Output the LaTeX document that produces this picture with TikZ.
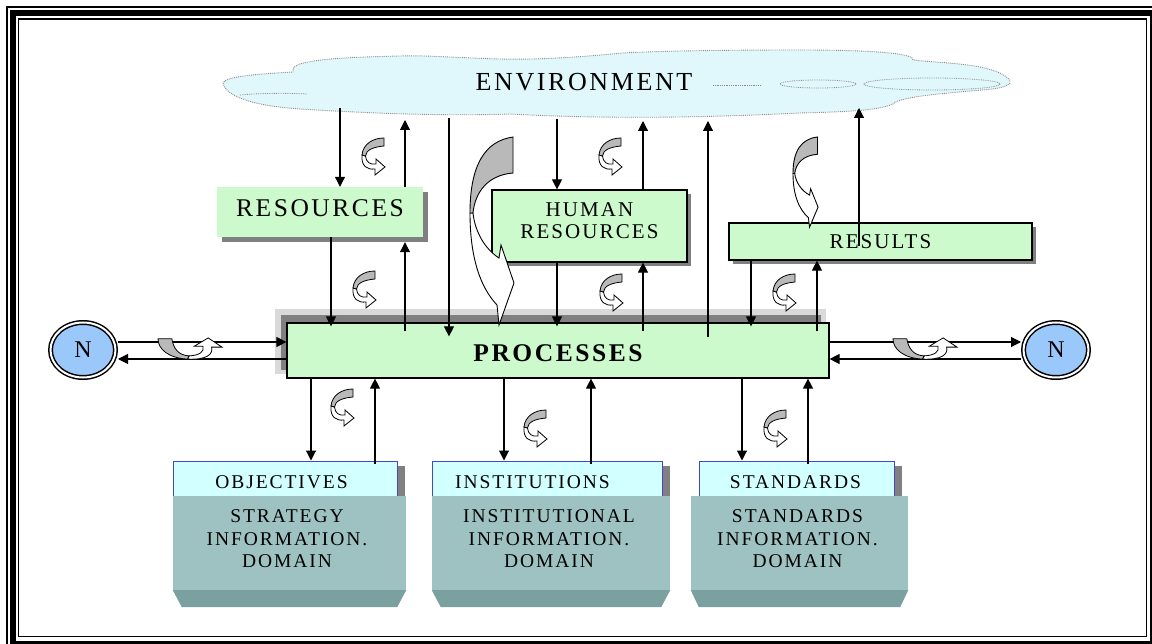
\documentclass[tikz,border=0pt]{standalone}
\usepackage{fontspec}
\setmainfont{Liberation Serif}[LetterSpace=10]
\usetikzlibrary{arrows.meta,calc,shadows,shapes.geometric}

\definecolor{cloudfill}{RGB}{224,247,252}
\definecolor{cloudline}{RGB}{140,140,140}
\definecolor{boxgreen}{RGB}{204,250,204}
\definecolor{nblue}{RGB}{155,200,250}
\definecolor{tabcyan}{RGB}{210,255,255}
\definecolor{tabblue}{RGB}{70,70,200}
\definecolor{bodyteal}{RGB}{158,194,194}
\definecolor{bevelteal}{RGB}{122,160,160}
\definecolor{curlgray}{RGB}{185,185,185}

\newcommand\fsEnv{\fontsize{26}{28}\selectfont}
\newcommand\fsRes{\fontsize{25.5}{28}\selectfont}
\newcommand\fsProc{\fontsize{25.5}{28}\selectfont\bfseries}
\newcommand\fsMid{\fontsize{21}{22}\selectfont}
\newcommand\fsSmall{\fontsize{19.5}{22.5}\selectfont}
\newcommand\fsN{\fontsize{24}{26}\selectfont}

\tikzset{
 curl/.pic={
  \draw[line width=0.8pt, fill=white] (1,17) .. controls (0,28) and (6,32) .. (14,31) -- (14,37) -- (24,29) -- (15,21) -- (15,26) .. controls (9,27) and (5,24) .. (4.5,18) -- cycle;
  \draw[line width=0.8pt, fill=curlgray] (23,0) .. controls (12,0) and (2,6) .. (1,17) -- (4.5,18) .. controls (5,12) and (12,9) .. (23,8) -- cycle;
 },
 bigcurl/.pic={
  \draw[line width=0.9pt, fill=white] (0,76) .. controls (0,120) and (10,150) .. (27,168) -- (29,188) -- (44,146) -- (31,108) -- (29,121) .. controls (15,112) and (5,95) .. (3,76) -- cycle;
  \draw[line width=0.9pt, fill=curlgray] (43,0) .. controls (15,4) and (0,28) .. (0,76) -- (3,76) .. controls (5,55) and (18,38) .. (43,36) -- cycle;
 }
}

\begin{document}
\begin{tikzpicture}[x=1pt, y=-1pt,
 arr/.style={line width=1.1pt, -{Triangle[width=10pt,length=10pt]}},
 resbox/.style={fill=boxgreen, inner sep=0pt, font=\fsRes, drop shadow={shadow xshift=5pt, shadow yshift=-5pt, fill=black!50, opacity=1}},
 gbox/.style={draw=black, line width=1.2pt, fill=boxgreen, inner sep=0pt, drop shadow={shadow xshift=4pt, shadow yshift=-4pt, fill=black!50, opacity=1}},
 pbox/.style={draw=black, line width=1.2pt, fill=boxgreen, inner sep=0pt},
 nnode/.style={ellipse, draw=black, double=white, double distance=2pt, line width=1.5pt, fill=nblue, minimum width=65pt, minimum height=55pt, inner sep=0pt, outer sep=2.5pt, font=\fsN},
 tabbox/.style={draw=tabblue, line width=1pt, fill=tabcyan, inner sep=0pt, minimum height=35pt, drop shadow={shadow xshift=8pt, shadow yshift=-5pt, fill=black!50, opacity=1}},
 bodybox/.style={fill=bodyteal, inner sep=0pt, minimum height=94pt},
 bevel/.style={fill=bevelteal}
]
\useasboundingbox (0,0) rectangle (1152,644);
\clip (0,0) rectangle (1152,644);

% frame
\draw[line width=1.2pt] (7,7) rectangle (1170,670);
\draw[line width=6pt] (12.5,13) rectangle (1152.5,643.5);
\draw[line width=1.2pt] (18.5,19) rectangle (1146.5,636.5);

% cloud
\path[fill=cloudfill, draw=cloudline, densely dotted, line width=0.9pt]
 (223,83)
 .. controls (226,97) and (255,106) .. (300,109)
 .. controls (380,114) and (450,116) .. (510,114)
 .. controls (600,119) and (700,118) .. (800,113)
 .. controls (840,112) and (878,111) .. (893,104)
 .. controls (900,96) and (950,93) .. (993,89)
 .. controls (1006,87) and (1012,84) .. (1010,81)
 .. controls (1007,75) and (995,70) .. (980,67)
 .. controls (960,63) and (930,62) .. (913,60)
 .. controls (915,54) and (880,50) .. (800,50)
 .. controls (720,50) and (660,51) .. (623,53)
 .. controls (580,57) and (540,60) .. (500,59)
 .. controls (460,58) and (425,55) .. (400,56)
 .. controls (360,57) and (320,58) .. (300,64)
 .. controls (292,67) and (292,70) .. (293,72)
 .. controls (255,74) and (224,77) .. (223,83) -- cycle;
\draw[cloudline, densely dotted, line width=0.8pt] (240,95) .. controls (260,93) and (290,93) .. (307,94);
\draw[cloudline, densely dotted, line width=0.8pt] (932,84) ellipse [x radius=68, y radius=6];
\draw[cloudline, densely dotted, line width=0.8pt] (818,84) ellipse [x radius=38, y radius=4];
\draw[cloudline, densely dotted, line width=0.8pt] (713,85) -- (760,85);
\node[font=\fsEnv, inner sep=0pt] (env) at (584,82.5) {ENVIRONMENT};

% cloud attachment points
\coordinate (e340) at (340,108);
\coordinate (e405) at (405,120);
\coordinate (e449) at (449,118);
\coordinate (e557) at (557,119);
\coordinate (e643) at (643,121);
\coordinate (e708) at (708,121);
\coordinate (e859) at (859,108);
\coordinate (x331) at (331,0);
\coordinate (x751) at (751,0);
\coordinate (x817) at (817,0);
\coordinate (x311) at (311,0);
\coordinate (x375) at (375,0);
\coordinate (x504) at (504,0);
\coordinate (x591) at (591,0);
\coordinate (x742) at (742,0);
\coordinate (x808) at (808,0);

% upper boxes
\node[resbox, minimum width=206pt, minimum height=50pt, text height=17pt, text depth=7pt] (res) at (320,212) {RESOURCES};
\node[gbox, minimum width=195pt, minimum height=72pt, label={[font=\fsMid, align=center, yshift=5pt]center:HUMAN\\RESOURCES}] (hr) at (589.5,226) {};
\node[gbox, minimum width=303pt, minimum height=37pt, text height=14pt, text depth=0pt, font=\fsMid] (rsl) at (880.5,241.5) {RESULTS};

% processes with shadow
\fill[black!15] (275,309) rectangle (826,374);
\fill[black!50] (281,315) rectangle (821,370);
\node[pbox, minimum width=542pt, minimum height=55pt, text height=23pt, text depth=0pt, font=\fsProc] (proc) at (558,350.5) {PROCESSES};

% N nodes
\node[nnode] (nL) at (83,350) {N};
\node[nnode] (nR) at (1056,350) {N};

% lower boxes
\node[tabbox, minimum width=224pt, label={[font=\fsSmall, xshift=-3.5pt, yshift=-4pt]center:OBJECTIVES}] (objt) at (285,478.5) {};
\node[bodybox, minimum width=233pt, label={[font=\fsSmall, align=center, xshift=-2.5pt, yshift=4pt]center:STRATEGY\\INFORMATION.\\DOMAIN}] (objb) at (289.5,543) {};
\fill[bevel] (objb.south west) -- (objb.south east) -- ($(objb.south east)+(-9,17)$) -- ($(objb.south west)+(9,17)$) -- cycle;

\node[tabbox, minimum width=230pt, label={[font=\fsSmall, xshift=-14.5pt, yshift=-4pt]center:INSTITUTIONS}] (instt) at (547,478.5) {};
\node[bodybox, minimum width=238pt, label={[font=\fsSmall, align=center, xshift=-2pt, yshift=4pt]center:INSTITUTIONAL\\INFORMATION.\\DOMAIN}] (instb) at (551,543) {};
\fill[bevel] (instb.south west) -- (instb.south east) -- ($(instb.south east)+(-9,17)$) -- ($(instb.south west)+(9,17)$) -- cycle;

\node[tabbox, minimum width=195pt, label={[font=\fsSmall, xshift=-1pt, yshift=-4pt]center:STANDARDS}] (stdt) at (796.5,478.5) {};
\node[bodybox, minimum width=217pt, label={[font=\fsSmall, align=center, xshift=-2pt, yshift=4pt]center:STANDARDS\\INFORMATION.\\DOMAIN}] (stdb) at (799.5,543) {};
\fill[bevel] (stdb.south west) -- (stdb.south east) -- ($(stdb.south east)+(-8,17)$) -- ($(stdb.south west)+(8,17)$) -- cycle;

% connectors: cloud / upper boxes / processes
\draw[arr] (e340) -- (e340 |- res.north);
\draw[arr] (e405 |- res.north) -- (e405);
\draw[arr] (x331 |- res.south) -- ($(x331 |- proc.north)+(0,4)$);
\draw[arr] ($(e405 |- proc.north)+(0,9)$) -- ($(e405 |- res.south)+(0,5)$);
\draw[arr] (e449) -- ($(e449 |- proc.north)+(0,14)$);
\draw[arr] (e557) -- (e557 |- hr.north);
\draw[arr] (e643 |- hr.north) -- (e643);
\draw[arr] (e557 |- hr.south) -- ($(e557 |- proc.north)+(0,4)$);
\draw[arr] ($(e643 |- proc.north)+(0,9)$) -- (e643 |- hr.south);
\draw[arr] ($(e708 |- proc.north)+(0,15)$) -- (e708);
\draw[arr] (x751 |- rsl.south) -- ($(x751 |- proc.north)+(0,4)$);
\draw[arr] ($(x817 |- proc.north)+(0,9)$) -- (x817 |- rsl.south);
\draw[arr] ($(e859 |- rsl.north)+(0,24)$) -- (e859);

% connectors: processes / lower boxes
\draw[arr] (x311 |- proc.south) -- (x311 |- objt.north);
\draw[arr] ($(x375 |- objt.north)+(0,3)$) -- (x375 |- proc.south);
\draw[arr] (x504 |- proc.south) -- (x504 |- instt.north);
\draw[arr] ($(x591 |- instt.north)+(0,3)$) -- (x591 |- proc.south);
\draw[arr] (x742 |- proc.south) -- (x742 |- stdt.north);
\draw[arr] ($(x808 |- stdt.north)+(0,3)$) -- (x808 |- proc.south);

% connectors: N nodes
\draw[arr] ($(nL.east)+(0,-8)$) -- ($(proc.west)+(0,-8.5)$);
\draw[arr] ($(proc.west)+(0,8.5)$) -- ($(nL.east)+(0,9)$);
\draw[arr] ($(proc.east)+(0,-8.5)$) -- ($(nR.west)+(0,-8)$);
\draw[arr] ($(nR.west)+(0,9)$) -- ($(proc.east)+(0,8.5)$);

% curl icons
\pic at (361,138) {curl};
\pic at (352,271) {curl};
\pic at (598,138) {curl};
\pic at (599,274) {curl};
\pic at (772,274) {curl};
\pic at (330,389) {curl};
\pic at (523,410) {curl};
\pic at (763,410) {curl};
\pic[rotate=90, xscale=0.92, yscale=1.73] at (158,360) {curl};
\pic[rotate=90, xscale=0.92, yscale=1.73] at (893,360) {curl};

% big curved arrows
\pic at (470,137) {bigcurl};
\pic[xscale=0.57, yscale=0.48] at (793,137) {bigcurl};
\end{tikzpicture}
\end{document}
